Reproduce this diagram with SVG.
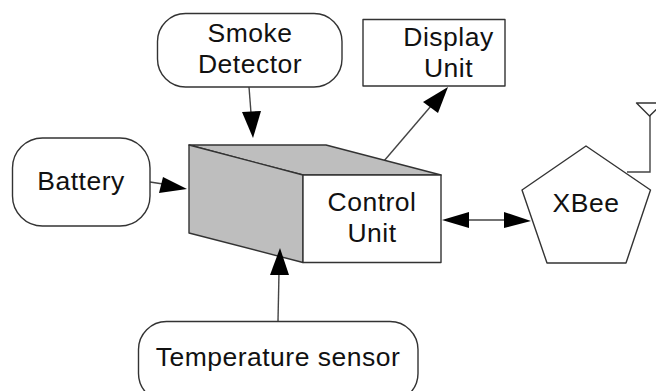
<svg xmlns="http://www.w3.org/2000/svg" width="656" height="391" viewBox="0 0 656 391">
<style>
.s{fill:#fff;stroke:#333;stroke-width:1.4;stroke-linejoin:round}
.g{fill:#bebebe;stroke:#333;stroke-width:1.4;stroke-linejoin:round}
.l{fill:none;stroke:#444;stroke-width:1.4}
.h{fill:#000;stroke:none}
text{font-family:"Liberation Sans",Arial,sans-serif;font-size:26.500px;letter-spacing:.5px;fill:#111;text-anchor:middle}
</style>
<rect width="656" height="391" fill="#fff"/>
<g id="connectors">
<path class="l" d="M249 87L251 113"/><polygon class="h" points="253,138 242,112 261,111"/>
<path class="l" d="M150 182L163 184"/><polygon class="h" points="187,189 163,177 159,193"/>
<path class="l" d="M278 321L279 272"/>
<path class="l" d="M372 175L431 106"/>
<path class="l" d="M465 220H506"/>
</g>
<g id="smoke-detector"><rect class="s" x="157.500" y="13.500" width="184.500" height="73.500" rx="28" ry="28"/><text x="250" y="42">Smoke</text><text x="250" y="73">Detector</text></g>
<g id="display-unit"><rect class="s" x="363" y="19.500" width="142" height="66.500"/><text x="448.500" y="46">Display</text><text x="448.500" y="77">Unit</text></g>
<g id="battery"><rect class="s" x="12.500" y="138" width="137.500" height="88" rx="30" ry="30"/><text x="81" y="190">Battery</text></g>
<g id="control-unit">
<polygon class="g" points="189,145 326,145 441,175 303,175"/>
<polygon class="g" points="189,145 303,175 303,262.500 189,233"/>
<rect class="s" x="303" y="175" width="138" height="87.500"/>
<text x="372" y="211">Control</text><text x="372" y="242">Unit</text>
</g>
<g id="temperature-sensor"><rect class="s" x="138.500" y="321.500" width="279.500" height="80" rx="28" ry="28"/><text x="278" y="366">Temperature sensor</text></g>
<g id="xbee">
<path class="l" d="M627 172H650V115"/>
<polygon class="s" points="636.500,103 663,103 649.500,116"/>
<polygon class="s" points="586,146 650.500,190 626,263 547,263 522,190"/>
<text x="586" y="212">XBee</text>
</g>
<g id="arrowheads">
<polygon class="h" points="280,248 270,275 289,275"/>
<polygon class="h" points="448,87 423,102 438,113"/>
<polygon class="h" points="442,220 469,212 469,228"/>
<polygon class="h" points="531,221 504,212 504,228"/>
</g>
</svg>
